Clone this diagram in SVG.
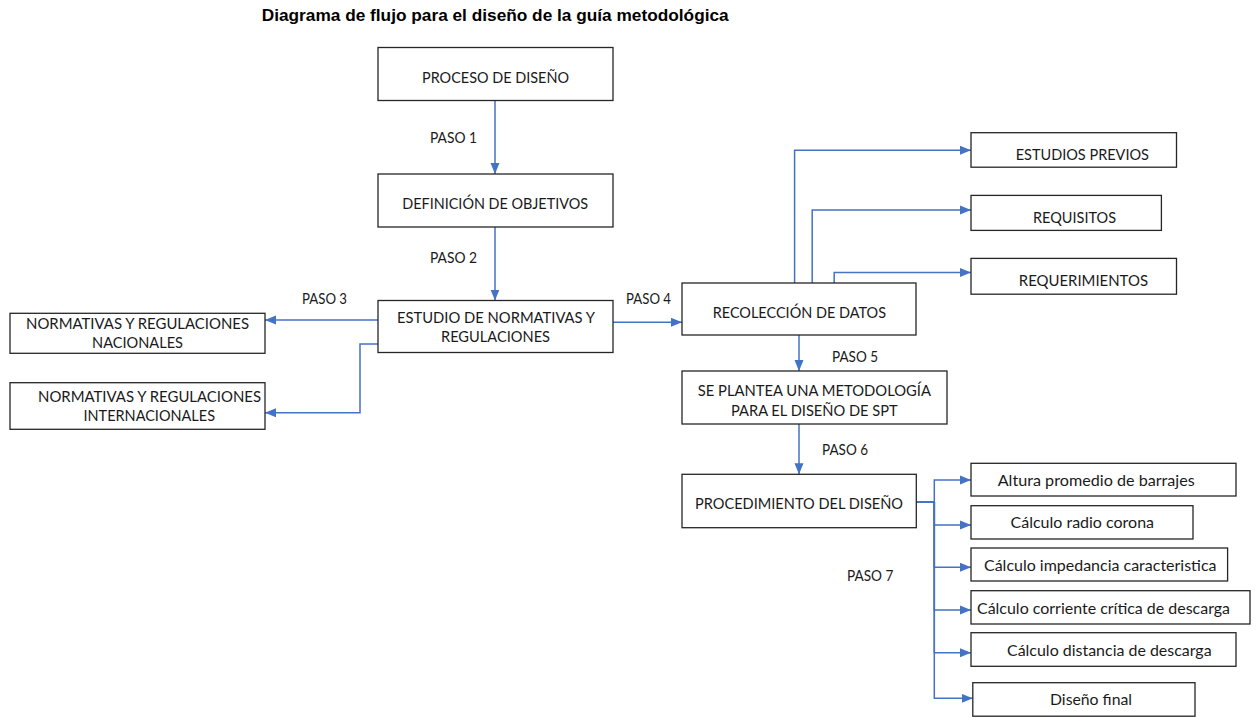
<svg xmlns="http://www.w3.org/2000/svg" width="1259" height="717" viewBox="0 0 1259 717">
<style>
.box{fill:#fff;stroke:#262626;stroke-width:1.3}
.t{font-family:Lato,"Open Sans","Liberation Sans",sans-serif;font-size:15.3px;fill:#1a1a1a}
.title{font-family:"Liberation Sans",Arial,sans-serif;font-size:17.2px;font-weight:bold;fill:#000}
.c{fill:none;stroke:#4472C4;stroke-width:1.5}
</style>
<defs>
<marker id="ah" markerUnits="userSpaceOnUse" markerWidth="12" markerHeight="10" refX="11" refY="5" orient="auto">
<path d="M0,0.5 L11,5 L0,9.5 Z" fill="#4472C4"/>
</marker>
</defs>
<rect width="1259" height="717" fill="#fff"/>
<text class="title" x="261.7" y="20.7" textLength="467" lengthAdjust="spacingAndGlyphs">Diagrama de flujo para el diseño de la guía metodológica</text>

<g id="connectors">
<path class="c" d="M495,100.7 V174" marker-end="url(#ah)"/>
<path class="c" d="M495,227 V300.5" marker-end="url(#ah)"/>
<path class="c" d="M378,320 H265" marker-end="url(#ah)"/>
<path class="c" d="M378,344 H360 V412.7 H265" marker-end="url(#ah)"/>
<path class="c" d="M613,322.3 H682" marker-end="url(#ah)"/>
<path class="c" d="M794.6,283 V150.3 H971" marker-end="url(#ah)"/>
<path class="c" d="M812.2,283 V210 H971" marker-end="url(#ah)"/>
<path class="c" d="M834.2,283 V272.5 H971" marker-end="url(#ah)"/>
<path class="c" d="M799,335 V371" marker-end="url(#ah)"/>
<path class="c" d="M799,424 V474.3" marker-end="url(#ah)"/>
<path class="c" d="M916.3,502.3 H934.3 V480 H971" marker-end="url(#ah)"/>
<path class="c" d="M916.3,502.3 H934.3 V525 H971" marker-end="url(#ah)"/>
<path class="c" d="M916.3,502.3 H934.3 V567.3 H971" marker-end="url(#ah)"/>
<path class="c" d="M916.3,502.3 H934.3 V610 H971" marker-end="url(#ah)"/>
<path class="c" d="M916.3,502.3 H934.3 V652.7 H971" marker-end="url(#ah)"/>
<path class="c" d="M916.3,502.3 H934.3 V698.3 H972.8" marker-end="url(#ah)"/>
</g>

<g id="labels">
<text class="t" x="430" y="143.3" textLength="47" lengthAdjust="spacingAndGlyphs">PASO 1</text>
<text class="t" x="430" y="262.7" textLength="47" lengthAdjust="spacingAndGlyphs">PASO 2</text>
<text class="t" x="302" y="304" textLength="45" lengthAdjust="spacingAndGlyphs">PASO 3</text>
<text class="t" x="626" y="304" textLength="45" lengthAdjust="spacingAndGlyphs">PASO 4</text>
<text class="t" x="832" y="361.7" textLength="46" lengthAdjust="spacingAndGlyphs">PASO 5</text>
<text class="t" x="822" y="455" textLength="46" lengthAdjust="spacingAndGlyphs">PASO 6</text>
<text class="t" x="847" y="580.7" textLength="46.4" lengthAdjust="spacingAndGlyphs">PASO 7</text>
</g>

<g id="n-proceso">
<rect class="box" x="378" y="47.5" width="235" height="53"/>
<text class="t" x="422" y="82.7" textLength="147" lengthAdjust="spacingAndGlyphs">PROCESO DE DISEÑO</text>
</g>
<g id="n-definicion">
<rect class="box" x="378" y="174" width="235" height="53"/>
<text class="t" x="402.3" y="209.3" textLength="185.7" lengthAdjust="spacingAndGlyphs">DEFINICIÓN DE OBJETIVOS</text>
</g>
<g id="n-estudio">
<rect class="box" x="378" y="300.5" width="235" height="52"/>
<text class="t" x="397" y="323.3" textLength="198" lengthAdjust="spacingAndGlyphs">ESTUDIO DE NORMATIVAS Y</text>
<text class="t" x="441" y="342.3" textLength="109" lengthAdjust="spacingAndGlyphs">REGULACIONES</text>
</g>
<g id="n-nacionales">
<rect class="box" x="10" y="313.3" width="255" height="40"/>
<text class="t" x="26" y="329" textLength="223" lengthAdjust="spacingAndGlyphs">NORMATIVAS Y REGULACIONES</text>
<text class="t" x="92" y="348" textLength="91" lengthAdjust="spacingAndGlyphs">NACIONALES</text>
</g>
<g id="n-internacionales">
<rect class="box" x="10" y="382.7" width="255" height="46.6"/>
<text class="t" x="38" y="401.7" textLength="223" lengthAdjust="spacingAndGlyphs">NORMATIVAS Y REGULACIONES</text>
<text class="t" x="83.5" y="420.7" textLength="131.5" lengthAdjust="spacingAndGlyphs">INTERNACIONALES</text>
</g>
<g id="n-recoleccion">
<rect class="box" x="682" y="283" width="234" height="52"/>
<text class="t" x="712.7" y="317.7" textLength="173.3" lengthAdjust="spacingAndGlyphs">RECOLECCIÓN DE DATOS</text>
</g>
<g id="n-estudios-previos">
<rect class="box" x="971" y="132.7" width="205.5" height="34.5"/>
<text class="t" x="1015.7" y="160" textLength="133.3" lengthAdjust="spacingAndGlyphs">ESTUDIOS PREVIOS</text>
</g>
<g id="n-requisitos">
<rect class="box" x="971" y="195.4" width="190.4" height="35"/>
<text class="t" x="1033" y="223" textLength="83" lengthAdjust="spacingAndGlyphs">REQUISITOS</text>
</g>
<g id="n-requerimientos">
<rect class="box" x="971" y="258.4" width="205.5" height="35.8"/>
<text class="t" x="1018.8" y="285.6" textLength="129.2" lengthAdjust="spacingAndGlyphs">REQUERIMIENTOS</text>
</g>
<g id="n-metodologia">
<rect class="box" x="682" y="371" width="265" height="53"/>
<text class="t" x="697.7" y="396" textLength="233.3" lengthAdjust="spacingAndGlyphs">SE PLANTEA UNA METODOLOGÍA</text>
<text class="t" x="731" y="415.7" textLength="166.7" lengthAdjust="spacingAndGlyphs">PARA EL DISEÑO DE SPT</text>
</g>
<g id="n-procedimiento">
<rect class="box" x="682" y="474.3" width="234.3" height="53.4"/>
<text class="t" x="695" y="509.3" textLength="208" lengthAdjust="spacingAndGlyphs">PROCEDIMIENTO DEL DISEÑO</text>
</g>
<g id="n-altura">
<rect class="box" x="971" y="463.3" width="265" height="32.7"/>
<text class="t" x="997.7" y="486" textLength="197.1" lengthAdjust="spacingAndGlyphs">Altura promedio de barrajes</text>
</g>
<g id="n-radio">
<rect class="box" x="971" y="505.7" width="222" height="33.3"/>
<text class="t" x="1010.6" y="527.7" textLength="143.4" lengthAdjust="spacingAndGlyphs">Cálculo radio corona</text>
</g>
<g id="n-impedancia">
<rect class="box" x="971" y="548" width="256.6" height="33"/>
<text class="t" x="984" y="571" textLength="232.5" lengthAdjust="spacingAndGlyphs">Cálculo impedancia caracteristica</text>
</g>
<g id="n-corriente">
<rect class="box" x="971" y="590.7" width="279" height="33.3"/>
<text class="t" x="977" y="614" textLength="253" lengthAdjust="spacingAndGlyphs">Cálculo corriente crítica de descarga</text>
</g>
<g id="n-distancia">
<rect class="box" x="971" y="632.7" width="265" height="33.6"/>
<text class="t" x="1007" y="656" textLength="204.6" lengthAdjust="spacingAndGlyphs">Cálculo distancia de descarga</text>
</g>
<g id="n-final">
<rect class="box" x="972.8" y="682.7" width="222.2" height="33.5"/>
<text class="t" x="1050" y="705" textLength="82" lengthAdjust="spacingAndGlyphs">Diseño final</text>
</g>
</svg>
